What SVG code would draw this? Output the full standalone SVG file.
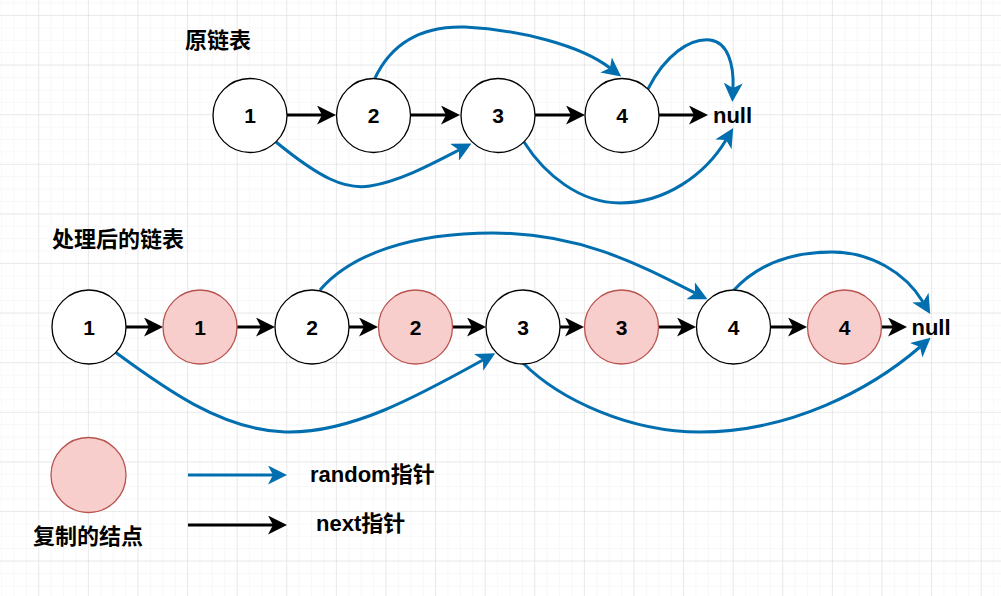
<svg xmlns="http://www.w3.org/2000/svg" width="1001" height="596" viewBox="0 0 1001 596">
<defs>
<pattern id="minor" patternUnits="userSpaceOnUse" x="38.3" y="15" width="12.4" height="12.4">
<path d="M0,0 H12.4 M0,0 V12.4" stroke="#f1f1f1" stroke-width="1" fill="none"/>
</pattern>
<pattern id="major" patternUnits="userSpaceOnUse" x="38.3" y="15" width="49.6" height="49.6">
<path d="M0,0 H49.6 M0,0 V49.6" stroke="#dcdcdc" stroke-width="1" fill="none"/>
</pattern>
<marker id="arrK" viewBox="0 0 19 19" refX="5" refY="9.5" markerWidth="19" markerHeight="19" orient="auto" markerUnits="userSpaceOnUse">
<path d="M0,0 L19,9.5 L0,19 L5,9.5 Z" fill="#000"/>
</marker>
<marker id="arrB" viewBox="0 0 19 19" refX="5" refY="9.5" markerWidth="19" markerHeight="19" orient="auto" markerUnits="userSpaceOnUse">
<path d="M0,0 L19,9.5 L0,19 L5,9.5 Z" fill="#006EAF"/>
</marker>
</defs>
<style>
.node{fill:#ffffff;stroke:#000000;stroke-width:1.3}
.copy{fill:#f8cecc;stroke:#b85450;stroke-width:1.3}
.lbl{font-family:"Liberation Sans","Noto Sans CJK SC",sans-serif;font-weight:bold;font-size:21px;fill:#000;text-anchor:middle}
.txt{font-family:"Liberation Sans","Noto Sans CJK SC",sans-serif;font-weight:bold;font-size:22px;fill:#000}
.title{font-family:"Liberation Sans","Noto Sans CJK SC",sans-serif;font-weight:bold;font-size:22px;fill:#000}
.next{stroke:#000;stroke-width:3;fill:none;marker-end:url(#arrK)}
.rand{stroke:#006EAF;stroke-width:3;fill:none;marker-end:url(#arrB)}
</style>
<rect x="0" y="0" width="1001" height="596" fill="#ffffff"/>
<rect x="0" y="0" width="1001" height="596" fill="url(#minor)"/>
<rect x="0" y="0" width="1001" height="596" fill="url(#major)"/>

<text class="title" x="185" y="48">原链表</text>
<text class="title" x="52" y="247">处理后的链表</text>

<g id="connectors">
<line class="next" x1="287" y1="115" x2="322" y2="115"/>
<line class="next" x1="411" y1="115" x2="446" y2="115"/>
<line class="next" x1="535" y1="115" x2="571" y2="115"/>
<line class="next" x1="659" y1="115" x2="694" y2="115"/>
<path class="rand" d="M276,142 C320,178 345,190 370,186 C400,181 430,165 459,150"/>
<path class="rand" d="M375,78 C395,36 430,26 465,27 C520,30 580,45 610,68"/>
<path class="rand" d="M524,142 C545,175 580,203 620,203 C665,203 705,175 726,140"/>
<path class="rand" d="M648,89 C665,55 690,38 710,40 C728,42 734,65 733,88"/>
<line class="next" x1="126" y1="327" x2="149" y2="327"/>
<line class="next" x1="237" y1="327" x2="261" y2="327"/>
<line class="next" x1="349" y1="327" x2="364" y2="327"/>
<line class="next" x1="453" y1="327" x2="472" y2="327"/>
<line class="next" x1="560" y1="327" x2="570" y2="327"/>
<line class="next" x1="659" y1="327" x2="682" y2="327"/>
<line class="next" x1="771" y1="327" x2="793" y2="327"/>
<line class="next" x1="882" y1="327" x2="893" y2="327"/>
<path class="rand" d="M115,352 C160,385 220,430 285,432 C350,434 420,395 483,360"/>
<path class="rand" d="M320,290 C350,255 410,233 493,233 C580,233 640,265 695,293"/>
<path class="rand" d="M523,363 C560,400 630,432 700,432 C790,432 870,390 920,347"/>
<path class="rand" d="M734,290 C760,262 795,252 832,252 C870,252 905,272 923,302"/>
<line class="rand" x1="188" y1="475" x2="273" y2="475"/>
<line class="next" x1="188" y1="525" x2="273" y2="525"/>
</g>

<g id="top-1"><circle class="node" cx="250" cy="115.5" r="37"/><text class="lbl" x="250" y="123">1</text></g>
<g id="top-2"><circle class="node" cx="373.5" cy="115.5" r="37"/><text class="lbl" x="373.5" y="123">2</text></g>
<g id="top-3"><circle class="node" cx="498" cy="115.5" r="37"/><text class="lbl" x="498" y="123">3</text></g>
<g id="top-4"><circle class="node" cx="622" cy="115.5" r="37"/><text class="lbl" x="622" y="123">4</text></g>
<g id="top-null"><text class="txt" x="732.5" y="123" text-anchor="middle">null</text></g>

<g id="bot-1"><circle class="node" cx="89" cy="327" r="37"/><text class="lbl" x="89" y="334.5">1</text></g>
<g id="bot-1c"><circle class="copy" cx="200" cy="327" r="37"/><text class="lbl" x="200" y="334.5">1</text></g>
<g id="bot-2"><circle class="node" cx="312" cy="327" r="37"/><text class="lbl" x="312" y="334.5">2</text></g>
<g id="bot-2c"><circle class="copy" cx="415.5" cy="327" r="37"/><text class="lbl" x="415.5" y="334.5">2</text></g>
<g id="bot-3"><circle class="node" cx="523" cy="327" r="37"/><text class="lbl" x="523" y="334.5">3</text></g>
<g id="bot-3c"><circle class="copy" cx="621.5" cy="327" r="37"/><text class="lbl" x="621.5" y="334.5">3</text></g>
<g id="bot-4"><circle class="node" cx="733.5" cy="327" r="37"/><text class="lbl" x="733.5" y="334.5">4</text></g>
<g id="bot-4c"><circle class="copy" cx="844.5" cy="327" r="37"/><text class="lbl" x="844.5" y="334.5">4</text></g>
<g id="bot-null"><text class="txt" x="931" y="334.5" text-anchor="middle">null</text></g>

<g id="legend-copy"><circle class="copy" cx="88.5" cy="475" r="37.5"/><text class="txt" x="88" y="544" text-anchor="middle">复制的结点</text></g>
<g id="legend-random"><text class="txt" x="310" y="482">random指针</text></g>
<g id="legend-next"><text class="txt" x="316" y="531">next指针</text></g>
</svg>
